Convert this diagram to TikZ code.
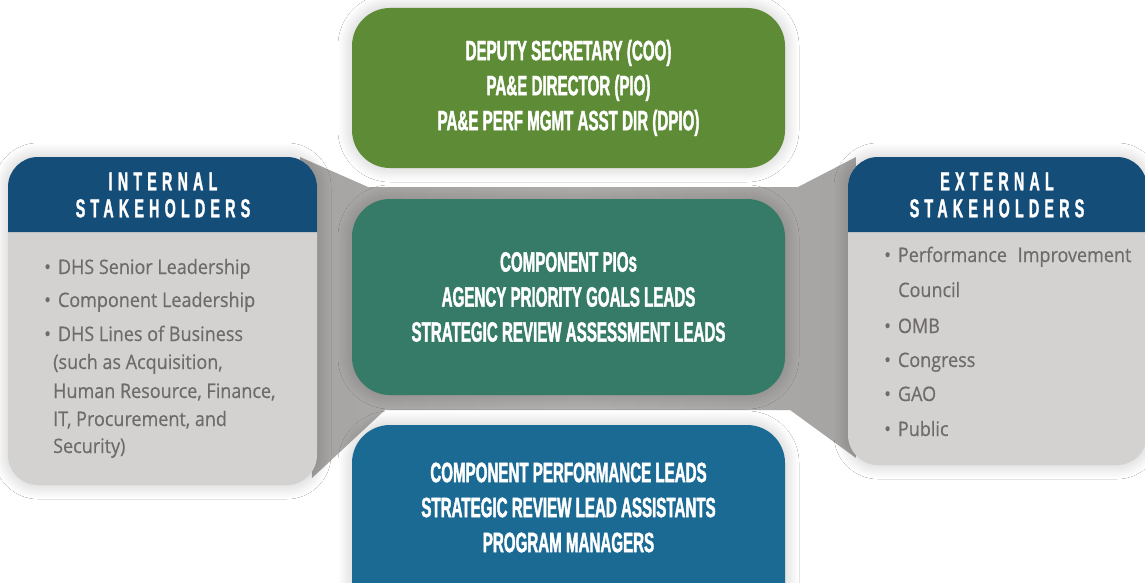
\documentclass[tikz,border=0pt]{standalone}
\usepackage{fontspec}
\usetikzlibrary{shadows.blur}
\newfontfamily\boxfont[FakeStretch=0.54,FakeBold=1.4]{Liberation Sans}
\newfontfamily\headfont[FakeStretch=0.55,FakeBold=1.2,LetterSpace=20]{Liberation Sans}
\newfontfamily\listfont[FakeStretch=0.9,FakeBold=0.4]{Open Sans}
\definecolor{greenbox}{HTML}{5E8C36}
\definecolor{tealbox}{HTML}{357B67}
\definecolor{bluebox}{HTML}{1B6A94}
\definecolor{headblue}{HTML}{154D79}
\definecolor{panelgray}{HTML}{D3D2D1}
\definecolor{listgray}{HTML}{6F6B69}
\definecolor{plategray}{HTML}{A6A4A2}
\definecolor{plategraylight}{HTML}{B2B0AE}
\newcommand{\bul}{\textbullet\hspace{7pt}}
\begin{document}
\begin{tikzpicture}[x=1pt,y=-1pt,
  halo/.style={blur shadow={shadow xshift=0pt,shadow yshift=0pt,shadow blur radius=14pt,
    shadow blur steps=40,shadow opacity=22}},
  roleshape/.style={halo,rounded corners=38},
  roletext/.style={inner sep=0pt,text=white,align=center,
    font=\boxfont\bfseries\fontsize{28}{35}\selectfont},
  rolebox/.style={roleshape,roletext,minimum width=433},
  headtext/.style={text=white,align=center,inner sep=0pt,font=\headfont\bfseries\fontsize{26}{27}\selectfont},
  listline/.style={anchor=base west,inner sep=0pt,text=listgray,font=\listfont\fontsize{20}{22}\selectfont}]
\useasboundingbox (0,0) rectangle (1145,583);
\fill[white] (0,0) rectangle (1145,583);

% grey plate behind the middle row
\shade[left color=plategray,right color=plategray,middle color=plategraylight]
  (300,157) -- (368,187) -- (798,187) -- (856,157) -- (856,458) -- (790,410)
  -- (385,410) -- (312,478) -- cycle;

% internal stakeholders panel
\path[halo,fill=panelgray,rounded corners=30] (8,157) rectangle (317,485);
\fill[headblue] (8,232) [rounded corners=30] -- (8,157) -- (317,157) [sharp corners] -- (317,232) -- cycle;
\node[headtext] (inthead) at (163,195) {INTERNAL\\STAKEHOLDERS};
\node[listline] (i1) at (44,274) {\bul DHS Senior Leadership};
\node[listline] (i2) at (44,307) {\bul Component Leadership};
\node[listline] (i3) at (44,341) {\bul DHS Lines of Business};
\node[listline] (i4) at (53,369) {(such as Acquisition,};
\node[listline] (i5) at (53,398) {Human Resource, Finance,};
\node[listline] (i6) at (53,426) {IT, Procurement, and};
\node[listline] (i7) at (53,453) {Security)};

% external stakeholders panel
\path[halo,fill=panelgray,rounded corners=30] (848,157) rectangle (1147,465);
\fill[headblue] (848,232) [rounded corners=30] -- (848,157) -- (1147,157) [sharp corners] -- (1147,232) -- cycle;
\node[headtext] (exthead) at (997,195) {EXTERNAL\\STAKEHOLDERS};
\node[listline] (e1) at (884,262) {\bul Performance\hspace{6pt} Improvement};
\node[listline] (e2) at (898,297) {Council};
\node[listline] (e3) at (884,333) {\bul OMB};
\node[listline] (e4) at (884,367) {\bul Congress};
\node[listline] (e5) at (884,401) {\bul GAO};
\node[listline] (e6) at (884,436) {\bul Public};

% role boxes
\node[rolebox,fill=greenbox,minimum height=160] (exec) at (568.5,88)
  {DEPUTY SECRETARY (COO)\\PA\&E DIRECTOR (PIO)\\PA\&E PERF MGMT ASST DIR (DPIO)};
\node[rolebox,fill=tealbox,minimum height=196] (comp) at (568.5,297)
  {COMPONENT PIOs\\AGENCY PRIORITY GOALS LEADS\\STRATEGIC REVIEW ASSESSMENT LEADS};
\path[roleshape,fill=bluebox] (352,425) rectangle (785,625);
\node[roletext] (leads) at (568.5,507.5)
  {COMPONENT PERFORMANCE LEADS\\STRATEGIC REVIEW LEAD ASSISTANTS\\PROGRAM MANAGERS};
\end{tikzpicture}
\end{document}
